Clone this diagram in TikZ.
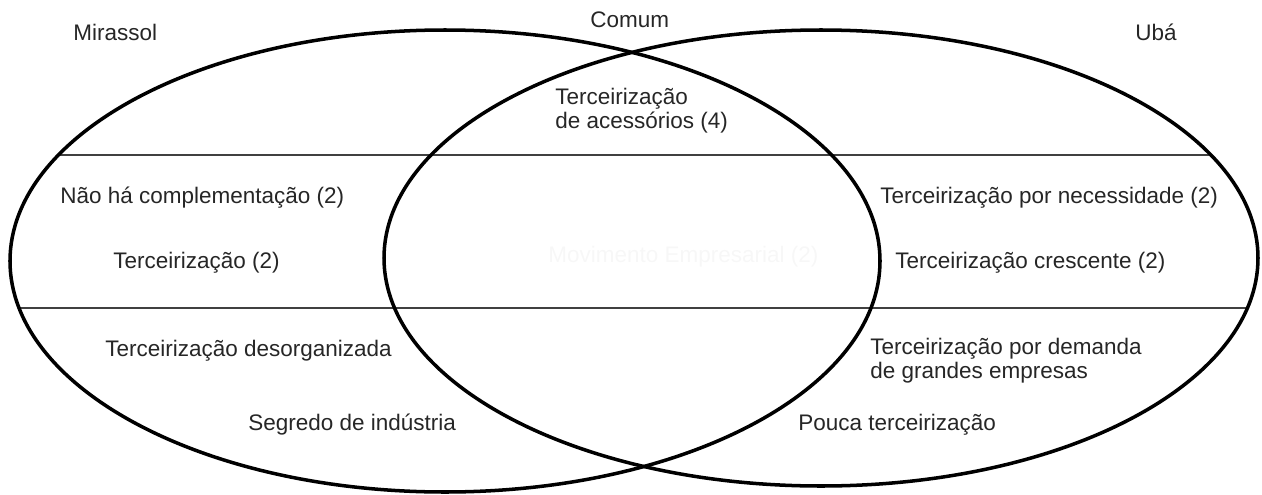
\documentclass[tikz,border=0pt]{standalone}
\usepackage{fontspec}
\setmainfont{Liberation Sans}
\usetikzlibrary{positioning}

\begin{document}
\begin{tikzpicture}[
    x=0.02cm, y=-0.02cm,
    font=\fontsize{12.8}{13.6}\selectfont,
    conj/.style={line width=2pt},
    faixa/.style={line width=0.9pt, black!75},
    rot/.style={anchor=west, inner sep=0pt, align=left, text=black!85},
  ]
  \useasboundingbox (0,0) rectangle (1262,494);
  % faixas horizontais
  \begin{scope}
    \clip (445,261) ellipse (435 and 231) (821,258) ellipse (437 and 228);
    \draw[faixa] (0,155) -- (1262,155);
    \draw[faixa] (0,308) -- (1262,308);
  \end{scope}
  % conjuntos
  \draw[conj] (445,261) ellipse (435 and 231);
  \draw[conj] (821,258) ellipse (437 and 228);
  % titulos
  \node[rot] (mira) at (73,32) {Mirassol};
  \node[rot] (comum) at (590,20) {Comum};
  \node[rot] (uba) at (1135,32) {Ubá};
  % interseccao
  \node[rot] (acess) at (555,111) {Terceirização\\de acessórios (4)};
  \node[rot, text=black!3] (movim) at (548,257) {Movimento Empresarial (2)};
  % Mirassol
  \node[rot] (compl) at (60,198) {Não há complementação (2)};
  \node[rot] (terc2) at (113,263) {Terceirização (2)};
  \node[rot] (desorg) at (105,351) {Terceirização desorganizada};
  \node[rot] (segredo) at (248,425) {Segredo de indústria};
  % Uba
  \node[rot] (necess) at (880,198) {Terceirização por necessidade (2)};
  \node[rot] (cresc) at (895,263) {Terceirização crescente (2)};
  \node[rot] (demanda) at (870,361) {Terceirização por demanda\\de grandes empresas};
  \node[rot] (pouca) at (798,425) {Pouca terceirização};
\end{tikzpicture}
\end{document}
